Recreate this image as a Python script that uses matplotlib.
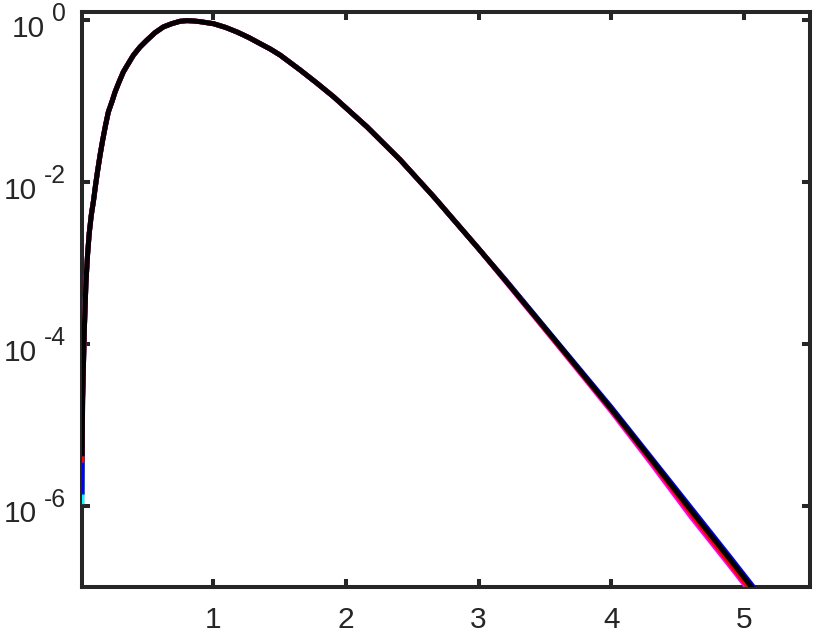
import matplotlib
matplotlib.use('Agg')
import matplotlib.pyplot as plt
from matplotlib.transforms import blended_transform_factory, offset_copy

plt.rcParams['font.family'] = ['Liberation Sans', 'DejaVu Sans']

# shared part of the curves (they lie on top of each other here)
x_body = [0.0128, 0.0249, 0.0378, 0.050, 0.0627, 0.078, 0.0959, 0.11, 0.125,
          0.145, 0.164, 0.185, 0.207, 0.235, 0.258, 0.288, 0.320, 0.357, 0.396,
          0.446, 0.497, 0.559, 0.622, 0.685, 0.748, 0.80, 0.849, 0.90, 1.0,
          1.09, 1.177, 1.265, 1.353, 1.43, 1.504, 1.654, 1.78, 1.906, 2.157,
          2.409, 2.661, 3.0]
y_body = [2.04e-5, 1.36e-4, 5.65e-4, 1.26e-3, 2.34e-3, 3.9e-3, 6.04e-3, 9.1e-3,
          1.35e-2, 2.19e-2, 3.30e-2, 5.0e-2, 7.40e-2, 0.100, 0.131, 0.174, 0.231,
          0.292, 0.372, 0.470, 0.569, 0.706, 0.832, 0.912, 0.977, 0.995, 0.986,
          0.966, 0.912, 0.822, 0.721, 0.617, 0.516, 0.442, 0.372, 0.244, 0.168,
          0.114, 0.0486, 0.0189, 6.64e-3, 1.51e-3]

# first point of each curve (left edge)
x_head = [0.009]
y_head_cyan = [1.05e-6]
y_head_blue = [1.38e-6]
y_head_magenta = [4.3e-6]
y_head_red = [3.4e-6]
y_head_black = [4.1e-6]

# tail, where the curves separate a little
x_tail = [3.2, 3.6, 4.0, 4.3, 4.6, 4.9, 5.2]
y_tail_cyan = [6.17e-4, 1.0e-4, 1.58e-5, 3.80e-6, 8.91e-7, 2.14e-7, 5.0e-8]
y_tail_blue = [6.31e-4, 1.02e-4, 1.66e-5, 3.98e-6, 9.55e-7, 2.29e-7, 5.37e-8]
y_tail_magenta = [6.03e-4, 9.55e-5, 1.48e-5, 3.39e-6, 7.41e-7, 1.78e-7, 4.17e-8]
y_tail_red = [6.17e-4, 9.77e-5, 1.55e-5, 3.63e-6, 8.13e-7, 1.91e-7, 4.47e-8]
y_tail_black = [6.17e-4, 1.0e-4, 1.58e-5, 3.80e-6, 8.91e-7, 2.14e-7, 5.0e-8]

x_ticks = [1, 2, 3, 4, 5]
y_ticks = [1e-6, 1e-4, 1e-2, 1e0]
y_exponents = ['-6', '-4', '-2', '0']

series = [
    ('cyan', y_head_cyan, y_tail_cyan),
    ('blue', y_head_blue, y_tail_blue),
    ('magenta', y_head_magenta, y_tail_magenta),
    ('red', y_head_red, y_tail_red),
    ('black', y_head_black, y_tail_black),
]

W, H = 814, 633
fig = plt.figure(figsize=(W / 100, H / 100), dpi=100)
ax = fig.add_axes([0.1007, 0.0731, 0.8944, 0.9087])

xs = x_head + x_body + x_tail
for col, yh, yt in series:
    ax.plot(xs, yh + y_body + yt, color=col, lw=3.6, zorder=3,
            solid_capstyle='butt', solid_joinstyle='round')

ax.set_yscale('log')
ax.set_xlim(0.008, 5.5)
ax.set_ylim(1e-7, 1.29)
ax.set_xticks(x_ticks)
ax.set_xticklabels([str(t) for t in x_ticks])
ax.set_yticks(y_ticks)
ax.yaxis.set_minor_locator(matplotlib.ticker.NullLocator())

dark = '#262626'
for s in ax.spines.values():
    s.set_linewidth(2.9)
    s.set_color(dark)
ax.tick_params(direction='in', length=6, width=2.9, color=dark,
               labelsize=21.5, labelcolor=dark, top=True, right=True)
ax.tick_params(axis='x', pad=14)
ax.tick_params(axis='y', labelleft=False)

# y labels as "10" + raised exponent, like the MATLAB look
tr = blended_transform_factory(fig.transFigure, ax.transData)
fig.canvas.draw()
rend = fig.canvas.get_renderer()
for yt, ex in zip(y_ticks, y_exponents):
    sup = fig.text(66 / W, yt, ex, ha='right', va='baseline', fontsize=17.8,
                   color=dark, transform=offset_copy(tr, fig, y=-1, units='dots'))
    bb = sup.get_window_extent(rend)
    fig.text((bb.x0 - 7.5) / W, yt, '10', ha='right', va='baseline',
             fontsize=21.5, color=dark,
             transform=offset_copy(tr, fig, y=-16.5, units='dots'))

fig.savefig('out.png', dpi=100)
